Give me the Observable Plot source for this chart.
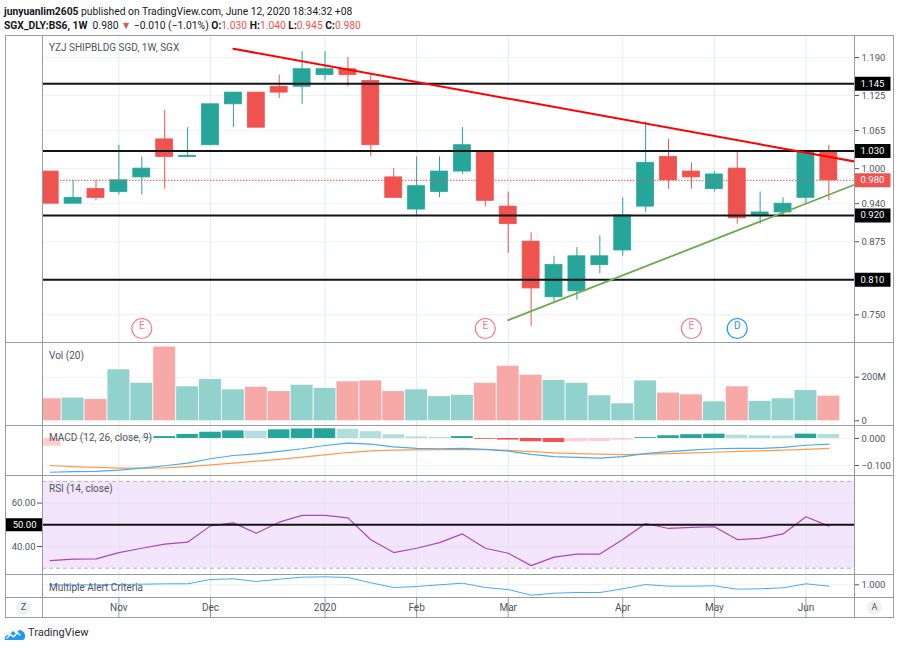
<!DOCTYPE html>
<html><head><meta charset="utf-8">
<script src="https://cdn.jsdelivr.net/npm/d3@7"></script>
<script src="https://cdn.jsdelivr.net/npm/@observablehq/plot@0.6"></script>
<style>
body{margin:0;background:#fff;}
#root{position:relative;width:900px;height:648px;overflow:hidden;font-family:Roboto,"Noto Sans",sans-serif;color:#131722;}
.hdr{position:absolute;left:4px;font-size:10.3px;white-space:nowrap;line-height:14px;}
.hdr b{font-weight:700}
.red{color:#ef5350}
.lg{position:absolute;left:49px;font-size:10px;color:#50535e;white-space:nowrap;line-height:12px;}
.bd{position:absolute;background:#9a9ca3;}
.btn{position:absolute;width:15px;height:15px;border-radius:50%;background:#eef0f4;color:#50535e;font-size:9px;text-align:center;line-height:15px;}
</style></head>
<body><div id="root"></div>
<script>
// ---------- data ----------
const weeks = ["2019-10-14","2019-10-21","2019-10-28","2019-11-04","2019-11-11","2019-11-18","2019-11-25",
  "2019-12-02","2019-12-09","2019-12-16","2019-12-23","2019-12-30","2020-01-06","2020-01-13","2020-01-20",
  "2020-01-27","2020-02-03","2020-02-10","2020-02-17","2020-02-24","2020-03-02","2020-03-09","2020-03-16",
  "2020-03-23","2020-03-30","2020-04-06","2020-04-13","2020-04-20","2020-04-27","2020-05-04","2020-05-11",
  "2020-05-18","2020-05-25","2020-06-01","2020-06-08"];
const open  = [0.995,0.940,0.965,0.960,0.985,1.050,1.020,1.040,1.110,1.130,1.140,1.140,1.160,1.170,1.150,0.985,0.930,0.960,0.995,1.030,0.935,0.875,0.780,0.790,0.835,0.860,0.935,1.020,0.995,0.965,1.000,0.920,0.925,0.950,1.030];
const high  = [0.995,0.980,0.980,1.040,1.020,1.100,1.070,1.110,1.130,1.130,1.160,1.200,1.200,1.190,1.160,1.000,1.020,1.020,1.070,1.030,0.960,0.890,0.850,0.865,0.885,0.950,1.080,1.050,1.010,0.995,1.030,0.960,0.950,1.030,1.040];
const low   = [0.940,0.940,0.945,0.955,0.955,0.965,1.020,1.040,1.070,1.070,1.120,1.110,1.150,1.140,1.020,0.950,0.920,0.950,0.990,0.935,0.855,0.730,0.770,0.775,0.820,0.850,0.925,0.965,0.965,0.960,0.905,0.905,0.920,0.940,0.945];
const close = [0.940,0.950,0.950,0.980,1.000,1.020,1.022,1.110,1.130,1.070,1.130,1.170,1.170,1.160,1.040,0.950,0.970,0.995,1.040,0.945,0.905,0.795,0.835,0.850,0.850,0.920,1.010,0.980,0.985,0.990,0.915,0.925,0.940,1.030,0.980];
const volumeM = [101,104,98,234,172,338,156,189,142,154,134,163,148,179,183,134,142,111,117,172,250,209,185,172,115,78,183,127,119,87,156,89,101,139,113];
const macdLine   = [-0.125,-0.123,-0.122,-0.117,-0.110,-0.101,-0.091,-0.075,-0.063,-0.057,-0.048,-0.038,-0.026,-0.017,-0.021,-0.031,-0.037,-0.038,-0.037,-0.040,-0.047,-0.059,-0.067,-0.070,-0.073,-0.067,-0.056,-0.049,-0.043,-0.038,-0.037,-0.037,-0.033,-0.025,-0.021];
const signalLine = [-0.100,-0.104,-0.107,-0.110,-0.110,-0.109,-0.104,-0.098,-0.091,-0.084,-0.077,-0.069,-0.061,-0.052,-0.046,-0.043,-0.042,-0.041,-0.041,-0.041,-0.044,-0.049,-0.053,-0.056,-0.058,-0.060,-0.058,-0.056,-0.053,-0.051,-0.048,-0.046,-0.043,-0.040,-0.037];
const macdHist   = [-0.029,-0.003,-0.002,-0.001,0.001,0.007,0.015,0.023,0.028,0.027,0.032,0.035,0.036,0.034,0.025,0.014,0.006,0.004,0.007,-0.003,-0.006,-0.012,-0.015,-0.012,-0.011,-0.006,0.003,0.010,0.014,0.016,0.012,0.010,0.009,0.016,0.015];
const rsi = [33.5,34.2,34.3,37.2,39.2,41.1,42.0,49.5,50.9,46.1,51.2,54.3,54.3,53.2,43.1,37.2,39.2,41.8,45.8,39.2,36.9,31.2,35.1,36.5,36.5,43.2,50.6,48.3,48.8,49.1,43.2,43.7,45.8,53.7,49.4];
const alertCriteria = [1.000,0.999,1.000,1.003,1.006,1.010,1.010,1.053,1.060,1.033,1.056,1.076,1.080,1.073,1.020,0.973,0.983,1.000,1.016,0.973,0.953,0.896,0.916,0.923,0.923,0.960,1.003,0.986,0.986,0.990,0.956,0.960,0.970,1.010,0.986];

const monthTickWeeks  = ["2019-11-04","2019-12-02","2020-01-06","2020-02-03","2020-03-02","2020-04-06","2020-05-04","2020-06-01"];
const monthTickLabels = ["Nov","Dec","2020","Feb","Mar","Apr","May","Jun"];
const priceTicks = [0.750,0.810,0.875,0.940,1.000,1.065,1.125,1.190];
const levelLines = [1.145,1.030,0.920,0.810];
const lastClose = 0.980;
const resistanceBars = [8, 36], resistancePrices = [1.205, 1.006];
const supportBars = [20, 36], supportPrices = [0.741, 0.986];
const eventWeeks = ["2019-11-11","2020-02-24","2020-04-27","2020-05-11"];
const eventTypes = ["E","E","E","D"];
const volumeTicks = [0, 200];
const macdTicks = [0, -0.1];
const rsiTicks = [40, 60];
const rsiBand = [30, 70];
const rsiMid = 50;
const alertTicks = [1.0];

// ---------- helpers ----------
const G = "#26a69a", R = "#ef5350", GRID = "#eef1f6", VGRID = "#e3ecf4";
const idx = w => weeks.indexOf(w);
const bars = weeks.map((w, i) => ({i, w, o: open[i], h: high[i], l: low[i], c: close[i], v: volumeM[i], up: close[i] >= open[i],
  m: macdLine[i], s: signalLine[i], hist: macdHist[i], prevHist: i ? macdHist[i - 1] : macdHist[i] - 0.001, rsi: rsi[i], a: alertCriteria[i]}));
const monthIdx = monthTickWeeks.map(idx);
const months = monthIdx.map((i, k) => ({i, label: monthTickLabels[k]}));
const events = eventWeeks.map((w, k) => ({i: idx(w), t: eventTypes[k]}));
const resistance = resistanceBars.map((b, k) => ({b, p: resistancePrices[k]}));
const support = supportBars.map((b, k) => ({b, p: supportPrices[k]}));
const histColor = d => d.hist >= 0 ? (d.hist >= d.prevHist ? "#26a69a" : "#b2dfdb") : (d.hist < d.prevHist ? "#ef5350" : "#ffcdd2");

const xDomain = [-0.336, 35.12];
const FONT = "Roboto, 'Noto Sans', sans-serif";
const common = {width: 889, marginLeft: 37, marginRight: 40, marginTop: 0, marginBottom: 0,
  style: {fontFamily: FONT, fontSize: "9.5px", color: "#50535e", background: "transparent", overflow: "visible"}};
const xScale = {type: "linear", domain: xDomain, axis: null};
const boxRight = {draw(ctx) { ctx.moveTo(0, -7); ctx.lineTo(36, -7); ctx.lineTo(36, 7); ctx.lineTo(0, 7); ctx.closePath(); }};
const boxLeft = {draw(ctx) { ctx.moveTo(-37, -6.5); ctx.lineTo(0, -6.5); ctx.lineTo(0, 6.5); ctx.lineTo(-37, 6.5); ctx.closePath(); }};
const root = document.getElementById("root");
function mount(el, top) { el.style.position = "absolute"; el.style.left = "5px"; el.style.top = top + "px"; root.appendChild(el); }

// ---------- main price pane ----------
mount(Plot.plot({...common, height: 307, x: xScale,
  y: {domain: [0.7026, 1.2277], axis: "right", ticks: priceTicks, tickFormat: d => d.toFixed(3), tickSize: 4, tickPadding: 3, label: null},
  marks: [
    Plot.ruleY(priceTicks, {stroke: GRID}),
    Plot.ruleX(monthIdx, {stroke: VGRID}),
    Plot.ruleX(bars, {x: "i", y1: "l", y2: "h", stroke: d => d.up ? G : R, strokeWidth: 1, clip: true}),
    Plot.rect(bars, {x1: d => d.i - 0.37, x2: d => d.i + 0.37, y1: "o", y2: "c", fill: d => d.up ? G : R, stroke: d => d.up ? G : R, strokeWidth: 0.8, clip: true}),
    Plot.ruleY([lastClose], {stroke: R, strokeDasharray: "1.5,1.5", strokeWidth: 1}),
    Plot.ruleY(levelLines, {stroke: "#131313", strokeWidth: 2}),
    Plot.line(resistance, {x: "b", y: "p", stroke: "#ff0000", strokeWidth: 2, clip: true}),
    Plot.line(support, {x: "b", y: "p", stroke: "#6aab4a", strokeWidth: 1.8, clip: true}),
    Plot.dot(events, {x: "i", frameAnchor: "bottom", dy: -14, r: 10, fill: "#fff", stroke: d => d.t === "D" ? "#2196f3" : "#f47c7e", strokeWidth: 1.2}),
    Plot.text(events, {x: "i", frameAnchor: "bottom", dy: -14, text: "t", fill: d => d.t === "D" ? "#2196f3" : "#f47c7e", fontSize: 10}),
    Plot.dot(levelLines, {y: d => d, frameAnchor: "right", symbol: boxRight, fill: "#000", stroke: "none"}),
    Plot.text(levelLines, {y: d => d, frameAnchor: "right", dx: 6, textAnchor: "start", text: d => d.toFixed(3), fill: "#fff"}),
    Plot.dot([lastClose], {y: d => d, frameAnchor: "right", symbol: boxRight, fill: R, stroke: "none"}),
    Plot.text([lastClose], {y: d => d, frameAnchor: "right", dx: 6, textAnchor: "start", text: d => d.toFixed(3), fill: "#fff"})
  ]}), 35);

// ---------- volume pane ----------
mount(Plot.plot({...common, height: 83, x: xScale,
  y: {domain: [-21.6, 359], axis: "right", ticks: volumeTicks, tickFormat: d => d === 0 ? "0" : d + "M", tickSize: 4, tickPadding: 3, label: null},
  marks: [
    Plot.ruleY([200], {stroke: GRID}),
    Plot.ruleX(monthIdx, {stroke: VGRID}),
    Plot.rect(bars, {x1: d => d.i - 0.48, x2: d => d.i + 0.48, y1: 0, y2: "v", fill: d => d.up ? "#92d2cc" : "#f7a9a7", clip: true})
  ]}), 342);

// ---------- MACD pane ----------
mount(Plot.plot({...common, height: 50, x: xScale,
  y: {domain: [-0.137, 0.048], axis: "right", ticks: macdTicks, tickFormat: d => d === 0 ? "0.000" : "\u2212" + Math.abs(d).toFixed(3), tickSize: 4, tickPadding: 3, label: null},
  marks: [
    Plot.ruleY(macdTicks, {stroke: GRID}),
    Plot.ruleX(monthIdx, {stroke: VGRID}),
    Plot.rect(bars, {x1: d => d.i - 0.47, x2: d => d.i + 0.47, y1: 0, y2: "hist", fill: histColor, clip: true}),
    Plot.line(bars, {x: "i", y: "s", stroke: "#ff9b45", strokeWidth: 1.2, clip: true}),
    Plot.line(bars, {x: "i", y: "m", stroke: "#4aaaf5", strokeWidth: 1.2, clip: true})
  ]}), 425);

// ---------- RSI pane ----------
mount(Plot.plot({...common, height: 99, x: xScale,
  y: {domain: [27.1, 72.7], axis: "left", ticks: rsiTicks, tickFormat: d => d.toFixed(2), tickSize: 5, tickPadding: 2, label: null},
  marks: [
    Plot.rect([rsiBand], {x1: xDomain[0], x2: xDomain[1], y1: d => d[0], y2: d => d[1], fill: "#f3e6fc"}),
    Plot.ruleY(rsiTicks, {stroke: "#e6dcf3"}),
    Plot.ruleX(monthIdx, {stroke: "#e2e2f5"}),
    Plot.ruleY(rsiBand, {stroke: "#b5b5b5", strokeDasharray: "4,3"}),
    Plot.line(bars, {x: "i", y: "rsi", stroke: "#ab47bc", strokeWidth: 1.2, clip: true}),
    Plot.ruleY([rsiMid], {stroke: "#131313", strokeWidth: 2}),
    Plot.dot([rsiMid], {y: d => d, frameAnchor: "left", symbol: boxLeft, fill: "#000", stroke: "none"}),
    Plot.text([rsiMid], {y: d => d, frameAnchor: "left", dx: -6, textAnchor: "end", text: d => d.toFixed(2), fill: "#fff"})
  ]}), 475);

// ---------- Multiple Alert Criteria pane ----------
mount(Plot.plot({...common, height: 23, x: xScale,
  y: {domain: [0.873, 1.103], axis: "right", ticks: alertTicks, tickFormat: d => d.toFixed(3), tickSize: 4, tickPadding: 3, label: null},
  marks: [
    Plot.ruleY(alertTicks, {stroke: GRID}),
    Plot.ruleX(monthIdx, {stroke: VGRID}),
    Plot.line(bars, {x: "i", y: "a", stroke: "#4aaaf5", strokeWidth: 1, clip: true})
  ]}), 574);

// ---------- time axis pane ----------
mount(Plot.plot({...common, height: 21, x: xScale, y: {axis: null},
  marks: [
    Plot.tickX(monthIdx, {x: d => d, y1: 0, y2: 0, stroke: "#9a9ca3"}),
    Plot.text(months, {x: "i", frameAnchor: "middle", text: "label", fontSize: 10, fill: "#50535e", fontWeight: d => d.label === "2020" ? "bold" : "normal"})
  ]}), 597);

// ---------- legends, header, frame ----------
function addDiv(cls, html, css) { const d = document.createElement("div"); d.className = cls; d.innerHTML = html; Object.assign(d.style, css); root.appendChild(d); return d; }
addDiv("hdr", "<b>junyuanlim2605</b> published on TradingView.com, June 12, 2020 18:34:32 +08", {top: "5px"});
addDiv("hdr", "<b>SGX_DLY:BS6, 1W</b>&nbsp; 0.980 <span class='red'>▼</span> \u22120.010 (\u22121.01%) <b>O:</b><span class='red'>1.030</span> <b>H:</b><span class='red'>1.040</span> <b>L:</b><span class='red'>0.945</span> <b>C:</b><span class='red'>0.980</span>", {top: "19px"});
addDiv("lg", "YZJ SHIPBLDG SGD, 1W, SGX", {top: "42px"});
addDiv("lg", "Vol (20)", {top: "350px"});
addDiv("lg", "MACD (12, 26, close, 9)", {top: "432px"});
addDiv("lg", "RSI (14, close)", {top: "483px"});
addDiv("lg", "Multiple Alert Criteria", {top: "582px"});
addDiv("btn", "Z", {left: "16px", top: "600px"});
addDiv("btn", "A", {left: "867px", top: "600px"});
// frame lines
[[5, 35, 889, 1], [5, 617, 889, 1], [5, 35, 1, 583], [893, 35, 1, 583], [42, 35, 1, 583], [854, 35, 1, 583],
 [5, 342, 889, 1], [5, 425, 889, 1], [5, 475, 889, 1], [5, 574, 889, 1], [5, 597, 889, 1]]
  .forEach(([l, t, w, h]) => addDiv("bd", "", {left: l + "px", top: t + "px", width: w + "px", height: h + "px"}));
// footer logo
addDiv("", "<svg width='22' height='14' viewBox='0 0 22 14'><path d='M1 13 C0 10 2 7.5 5 8 L9 4 L12 6.5 L15 3 C18.5 3 21.5 6 21 9.5 C21 12 20 13 18 13 Z' fill='#2196f3'/><path d='M2.5 11.5 L6.5 7.5 L9.5 9.8 L13.5 5.8 L16.5 8.5' stroke='#fff' stroke-width='1.4' fill='none'/></svg><span style='position:absolute;left:24px;top:0px;font-size:11px;color:#2a2e39'>TradingView</span>",
  {position: "absolute", left: "4px", top: "626px", width: "100px", height: "16px"});
</script></body></html>
